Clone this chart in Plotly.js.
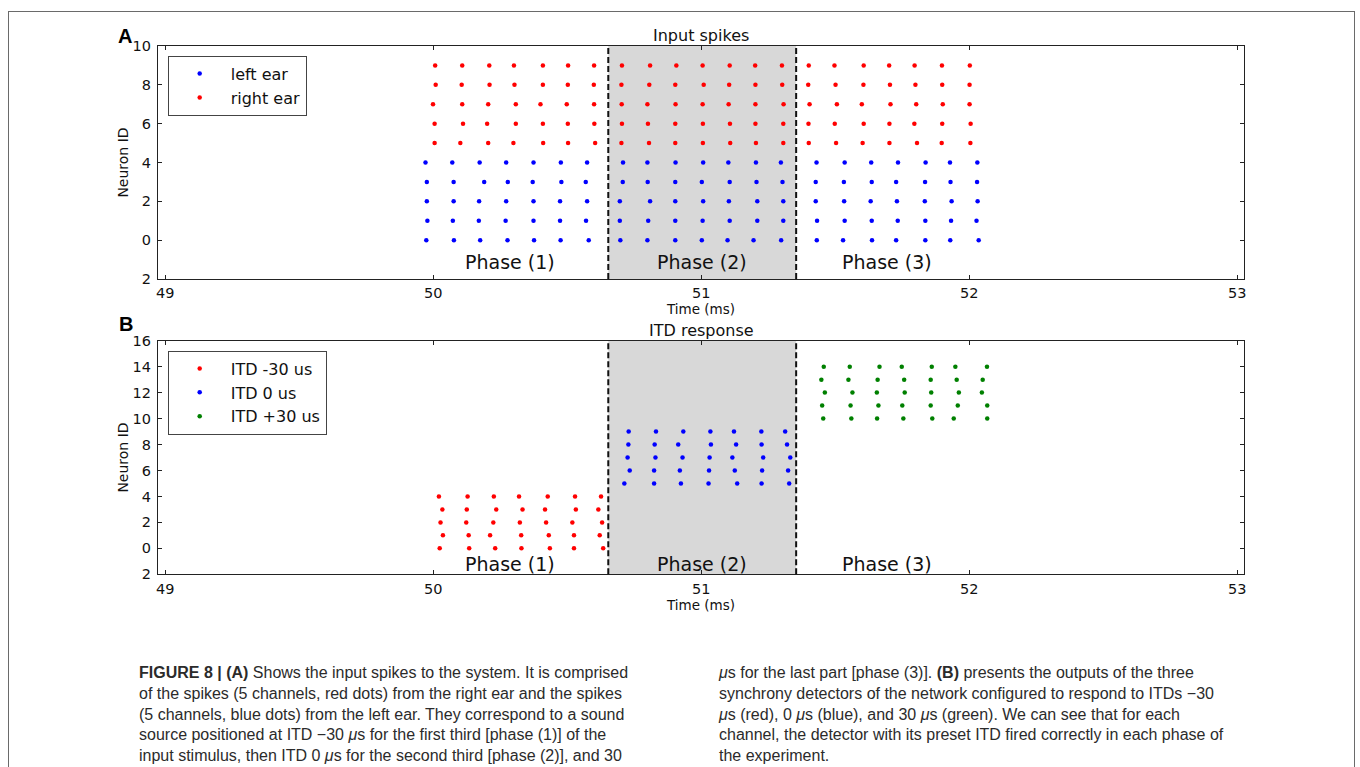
<!DOCTYPE html>
<html>
<head>
<meta charset="utf-8">
<script src="https://cdn.plot.ly/plotly-3.0.1.min.js"></script>
<style>
  html, body { margin: 0; padding: 0; background: #ffffff; overflow: hidden; }
  #chart { width: 1360px; height: 767px; position: absolute; left: 0; top: 0; }
  #frame { position: absolute; left: 8px; top: 11px; width: 1345px; height: 800px; border: 1px solid #6a6a6a; pointer-events: none; }
</style>
</head>
<body>
<div id="chart"></div>
<div id="frame"></div>
<script>
// ---------------- data ----------------
const timeTicks = [49, 50, 51, 52, 53];
const phaseBounds = [50.653, 51.354];
const phaseNames = ["Phase (1)", "Phase (2)", "Phase (3)"];

// Panel A: input spikes (spike times in ms, one list per neuron)
const leftEarIds = [0, 1, 2, 3, 4];
const leftEarSpikes = [
  [49.974, 50.077, 50.175, 50.277, 50.376, 50.475, 50.580, 50.698, 50.799, 50.903, 51.002, 51.098, 51.195, 51.298, 51.431, 51.529, 51.637, 51.727, 51.836, 51.929, 52.035],
  [49.978, 50.073, 50.170, 50.270, 50.374, 50.473, 50.570, 50.696, 50.802, 50.903, 51.005, 51.106, 51.209, 51.306, 51.432, 51.535, 51.636, 51.733, 51.836, 51.932, 52.027],
  [49.976, 50.076, 50.171, 50.272, 50.374, 50.473, 50.574, 50.696, 50.809, 50.903, 51.007, 51.103, 51.209, 51.306, 51.427, 51.533, 51.632, 51.730, 51.834, 51.934, 52.031],
  [49.976, 50.076, 50.190, 50.278, 50.371, 50.478, 50.569, 50.707, 50.800, 50.903, 51.002, 51.106, 51.206, 51.303, 51.427, 51.532, 51.636, 51.727, 51.835, 51.930, 52.029],
  [49.971, 50.071, 50.173, 50.272, 50.374, 50.476, 50.574, 50.708, 50.799, 50.904, 51.007, 51.101, 51.204, 51.297, 51.430, 51.535, 51.634, 51.734, 51.837, 51.928, 52.030]
];
const rightEarIds = [5, 6, 7, 8, 9];
const rightEarSpikes = [
  [50.005, 50.101, 50.205, 50.299, 50.410, 50.503, 50.604, 50.702, 50.805, 50.903, 51.006, 51.108, 51.204, 51.306, 51.401, 51.503, 51.602, 51.702, 51.805, 51.897, 52.004],
  [50.005, 50.111, 50.201, 50.308, 50.409, 50.502, 50.601, 50.704, 50.801, 50.903, 51.006, 51.107, 51.202, 51.306, 51.400, 51.498, 51.606, 51.702, 51.795, 51.899, 52.005],
  [49.999, 50.108, 50.205, 50.308, 50.400, 50.498, 50.600, 50.703, 50.799, 50.904, 51.005, 51.102, 51.202, 51.307, 51.404, 51.506, 51.599, 51.706, 51.802, 51.901, 52.001],
  [50.009, 50.106, 50.210, 50.303, 50.409, 50.502, 50.599, 50.702, 50.806, 50.903, 51.009, 51.104, 51.202, 51.302, 51.399, 51.501, 51.605, 51.704, 51.799, 51.899, 52.001],
  [50.007, 50.108, 50.209, 50.301, 50.409, 50.503, 50.600, 50.704, 50.809, 50.907, 51.005, 51.106, 51.201, 51.301, 51.401, 51.497, 51.606, 51.701, 51.796, 51.898, 52.002]
];

// Panel B: ITD detector responses
const itdMinusIds = [0, 1, 2, 3, 4];
const itdMinusSpikes = [
  [50.024, 50.134, 50.231, 50.329, 50.435, 50.525, 50.634],
  [50.036, 50.132, 50.212, 50.328, 50.431, 50.525, 50.621],
  [50.027, 50.123, 50.224, 50.323, 50.421, 50.519, 50.630],
  [50.034, 50.125, 50.235, 50.333, 50.417, 50.532, 50.616],
  [50.021, 50.128, 50.226, 50.320, 50.427, 50.529, 50.626]
];
const itdZeroIds = [5, 6, 7, 8, 9];
const itdZeroSpikes = [
  [50.713, 50.824, 50.924, 51.027, 51.134, 51.225, 51.328],
  [50.733, 50.824, 50.920, 51.029, 51.125, 51.227, 51.324],
  [50.725, 50.829, 50.930, 51.031, 51.116, 51.231, 51.332],
  [50.728, 50.826, 50.914, 51.036, 51.130, 51.225, 51.320],
  [50.729, 50.831, 50.933, 51.034, 51.122, 51.224, 51.313]
];
const itdPlusIds = [10, 11, 12, 13, 14];
const itdPlusSpikes = [
  [51.455, 51.560, 51.656, 51.754, 51.862, 51.942, 52.067],
  [51.451, 51.557, 51.661, 51.750, 51.856, 51.957, 52.067],
  [51.461, 51.564, 51.655, 51.759, 51.858, 51.961, 52.047],
  [51.448, 51.549, 51.658, 51.757, 51.856, 51.953, 52.050],
  [51.457, 51.554, 51.665, 51.748, 51.860, 51.948, 52.066]
];

const yTicksA = [-2, 0, 2, 4, 6, 8, 10];
const yTickTextA = ["2", "0", "2", "4", "6", "8", "10"];
const yTicksB = [-2, 0, 2, 4, 6, 8, 10, 12, 14, 16];
const yTickTextB = ["2", "0", "2", "4", "6", "8", "10", "12", "14", "16"];

// ---------------- build ----------------
function flatten(ids, spikes) {
  const xs = [], ys = [];
  spikes.forEach((row, i) => row.forEach(t => { xs.push(t); ys.push(ids[i]); }));
  return { x: xs, y: ys };
}
function raster(ids, spikes, name, color, xa, ya, legend) {
  const d = flatten(ids, spikes);
  return {
    type: 'scatter', mode: 'markers', name: name,
    x: d.x, y: d.y, xaxis: xa, yaxis: ya, legend: legend,
    marker: { color: color, size: 4.5, line: { width: 0 } },
    hoverinfo: 'x+y'
  };
}

const traces = [
  raster(leftEarIds, leftEarSpikes, 'left ear', '#0000ff', 'x', 'y', 'legend'),
  raster(rightEarIds, rightEarSpikes, 'right ear', '#ff0000', 'x', 'y', 'legend'),
  raster(itdMinusIds, itdMinusSpikes, 'ITD -30 us', '#ff0000', 'x2', 'y2', 'legend2'),
  raster(itdZeroIds, itdZeroSpikes, 'ITD 0 us', '#0000ff', 'x2', 'y2', 'legend2'),
  raster(itdPlusIds, itdPlusSpikes, 'ITD +30 us', '#008000', 'x2', 'y2', 'legend2')
];

const tickFont = { family: 'DejaVu Sans', size: 14.5, color: '#111111' };
const xDomain = [0.1160, 0.9149];

function xAxis(anchor) {
  return {
    domain: xDomain, anchor: anchor, range: [48.972, 53.026],
    tickmode: 'array', tickvals: timeTicks, ticktext: timeTicks.map(String),
    ticks: 'inside', ticklen: 4, tickcolor: '#222', mirror: 'ticks',
    showline: true, linecolor: '#222', linewidth: 1,
    showgrid: false, zeroline: false, tickfont: tickFont, ticklabelstandoff: 1,
    title: { text: 'Time (ms)', font: { family: 'DejaVu Sans', size: 13.5, color: '#111' }, standoff: 0 }
  };
}
function yAxis(anchor, domain, range, vals, text) {
  return {
    domain: domain, anchor: anchor, range: range,
    tickmode: 'array', tickvals: vals, ticktext: text,
    ticks: 'inside', ticklen: 4, tickcolor: '#222', mirror: 'ticks',
    showline: true, linecolor: '#222', linewidth: 1,
    showgrid: false, zeroline: false, tickfont: tickFont, ticklabelstandoff: 3,
    title: { text: 'Neuron ID', font: { family: 'DejaVu Sans', size: 14, color: '#111' }, standoff: 0 }
  };
}

const shapes = [];
[['x', 'y'], ['x2', 'y2']].forEach(([xa, ya]) => {
  shapes.push({ type: 'rect', xref: xa, yref: ya + ' domain', x0: phaseBounds[0], x1: phaseBounds[1], y0: 0, y1: 1,
    fillcolor: '#d8d8d8', line: { width: 0 }, layer: 'below' });
  phaseBounds.forEach(b => shapes.push({ type: 'line', xref: xa, yref: ya + ' domain', x0: b, x1: b, y0: 0, y1: 1,
    line: { color: '#111', width: 2, dash: '6px,3px' }, layer: 'above' }));
});

const phaseFont = { family: 'DejaVu Sans', size: 19, color: '#111' };
const phaseX = [50.285, 51.003, 51.693];
const annotations = [];
phaseNames.forEach((p, i) => {
  annotations.push({ text: p, xref: 'x', yref: 'y', x: phaseX[i], y: -1.13, showarrow: false, font: phaseFont, xanchor: 'center', yanchor: 'middle' });
  annotations.push({ text: p, xref: 'x2', yref: 'y2', x: phaseX[i], y: -1.18, showarrow: false, font: phaseFont, xanchor: 'center', yanchor: 'middle' });
});
const titleFont = { family: 'DejaVu Sans', size: 16, color: '#111' };
annotations.push({ text: 'Input spikes', xref: 'paper', yref: 'paper', x: 0.5155, y: 0.9531, showarrow: false, font: titleFont, xanchor: 'center', yanchor: 'middle' });
annotations.push({ text: 'ITD response', xref: 'paper', yref: 'paper', x: 0.5155, y: 0.5688, showarrow: false, font: titleFont, xanchor: 'center', yanchor: 'middle' });
const panelFont = { family: 'Liberation Sans', size: 20, color: '#000' };
annotations.push({ text: '<b>A</b>', xref: 'paper', yref: 'paper', x: 0.0919, y: 0.953, showarrow: false, font: panelFont, xanchor: 'center', yanchor: 'middle' });
annotations.push({ text: '<b>B</b>', xref: 'paper', yref: 'paper', x: 0.0926, y: 0.5776, showarrow: false, font: panelFont, xanchor: 'center', yanchor: 'middle' });

const capFont = { family: 'Liberation Sans', size: 16, color: '#2b2b2b' };
const mu = '<i>μ</i>';
const captionLeft = [
  '<b>FIGURE 8 | (A)</b> Shows the input spikes to the system. It is comprised',
  'of the spikes (5 channels, red dots) from the right ear and the spikes',
  '(5 channels, blue dots) from the left ear. They correspond to a sound',
  'source positioned at ITD −30 ' + mu + 's for the first third [phase (1)] of the',
  'input stimulus, then ITD 0 ' + mu + 's for the second third [phase (2)], and 30'
];
const captionRight = [
  mu + 's for the last part [phase (3)]. <b>(B)</b> presents the outputs of the three',
  'synchrony detectors of the network configured to respond to ITDs −30',
  mu + 's (red), 0 ' + mu + 's (blue), and 30 ' + mu + 's (green). We can see that for each',
  'channel, the detector with its preset ITD fired correctly in each phase of',
  'the experiment.'
];
annotations.push({ text: captionLeft.join('<br>'), xref: 'paper', yref: 'paper', x: 0.1007, y: 0.1369, showarrow: false, font: capFont, xanchor: 'left', yanchor: 'top', align: 'left' });
annotations.push({ text: captionRight.join('<br>'), xref: 'paper', yref: 'paper', x: 0.5265, y: 0.1369, showarrow: false, font: capFont, xanchor: 'left', yanchor: 'top', align: 'left' });

const legendFont = { family: 'DejaVu Sans', size: 16, color: '#111' };
const layout = {
  width: 1360, height: 767,
  margin: { l: 0, r: 0, t: 0, b: 0 },
  paper_bgcolor: '#ffffff', plot_bgcolor: '#ffffff',
  showlegend: true,
  xaxis: xAxis('y'),
  yaxis: yAxis('x', [0.63625, 0.94003], [-2, 10], yTicksA, yTickTextA),
  xaxis2: xAxis('y2'),
  yaxis2: yAxis('x2', [0.25124, 0.55580], [-2, 16], yTicksB, yTickTextB),
  legend: { x: 0.1233, y: 0.9274, xanchor: 'left', yanchor: 'top', bgcolor: '#fff', bordercolor: '#444', borderwidth: 1, font: legendFont, itemwidth: 52 },
  legend2: { x: 0.1233, y: 0.5428, xanchor: 'left', yanchor: 'top', bgcolor: '#fff', bordercolor: '#444', borderwidth: 1, font: legendFont, itemwidth: 52 },
  shapes: shapes,
  annotations: annotations
};

Plotly.newPlot('chart', traces, layout, { displayModeBar: false, staticPlot: true });
</script>
</body>
</html>
